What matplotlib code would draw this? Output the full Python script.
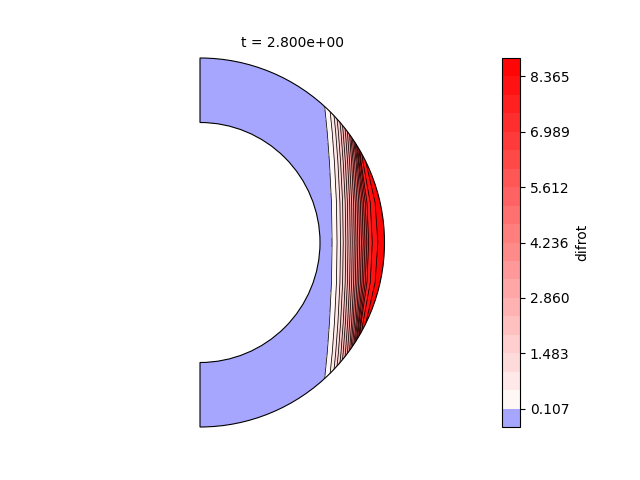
import numpy as np
import matplotlib
matplotlib.use("Agg")
import matplotlib.pyplot as plt
from matplotlib.colors import TwoSlopeNorm
from matplotlib.patches import Wedge

# shell geometry
r_out = 184.5
r_in = 120.0

levels = [-0.352, 0.107, 0.566, 1.025, 1.483, 1.942, 2.401, 2.860, 3.319, 3.777, 4.236,
          4.695, 5.154, 5.612, 6.071, 6.530, 6.989, 7.448, 7.906, 8.365, 8.824]
tick_values = [0.107, 1.483, 2.860, 4.236, 5.612, 6.989, 8.365]
tick_labels = ["0.107", "1.483", "2.860", "4.236", "5.612", "6.989", "8.365"]

# difrot values, and where each one sits along the x direction on a few heights
difrot_values = [-0.30, 0.10, 0.56, 1.02, 1.48, 1.94, 2.40, 2.85, 3.31, 3.77, 4.23,
                 4.69, 5.15, 5.61, 6.07, 6.53, 6.98, 7.44, 7.90, 8.36, 8.80]
heights = [0, 40, 80, 110, 140, 190]
x_at_value = [
    [0, 132.0, 137.0, 140.5, 143.2, 145.8, 148.0, 150.2, 152.2, 154.2, 156.0,
     157.8, 159.6, 161.4, 163.2, 165.0, 166.8, 168.6, 172.2, 177.6, 200],
    [0, 131.4, 136.4, 139.9, 142.6, 145.2, 147.4, 149.6, 151.6, 153.6, 155.3,
     157.0, 158.7, 160.4, 162.0, 163.6, 165.2, 166.9, 170.2, 174.8, 200],
    [0, 129.4, 134.4, 137.9, 140.6, 143.2, 145.4, 147.6, 149.6, 151.6, 153.1,
     154.6, 156.1, 157.2, 158.4, 159.2, 160.4, 161.1, 163.0, 165.6, 200],
    [0, 127.2, 132.2, 135.7, 138.4, 141.0, 143.2, 145.4, 147.4, 149.4, 150.6,
     151.8, 153.0, 154.0, 155.0, 156.0, 157.0, 158.0, 159.0, 160.0, 200],
    [0, 124.2, 129.2, 132.7, 135.4, 138.0, 140.2, 142.4, 144.4, 146.4, 147.5,
     148.5, 149.5, 150.5, 151.5, 152.5, 153.5, 154.5, 155.5, 156.5, 200],
    [0, 117.0, 122.0, 125.7, 128.4, 131.0, 133.2, 135.4, 137.4, 139.4, 140.5,
     141.5, 142.5, 143.5, 144.5, 145.5, 146.5, 147.5, 148.5, 149.5, 200],
]

# the table only holds one hemisphere, the other one is its mirror
table = np.array(x_at_value)
X = np.vstack([table[::-1], table[1:]])
h = np.array(heights, dtype=float)
y = np.concatenate([-h[::-1], h[1:]])
Y = np.tile(y[:, None], (1, table.shape[1]))
Z = np.tile(np.array(difrot_values), (len(y), 1))

fig = plt.figure(figsize=(6.4, 4.8), dpi=100)
ax = fig.add_axes([200 / 640, 53 / 480, r_out / 640, 369 / 480])
cax = fig.add_axes([502 / 640, 53 / 480, 18 / 640, 369 / 480])

norm = TwoSlopeNorm(vmin=levels[0], vcenter=0, vmax=levels[-1])
filled = ax.contourf(X, Y, Z, levels=levels, cmap="bwr", norm=norm)
lines = ax.contour(X, Y, Z, levels=levels[1:-1], colors="k", linewidths=0.55)

shell = Wedge((0, 0), r_out, -90, 90, width=r_out - r_in, fc="none", ec="k", lw=0.8, clip_on=False)
ax.add_patch(shell)
filled.set_clip_path(shell)
lines.set_clip_path(shell)

ax.set_xlim(0, r_out)
ax.set_ylim(-r_out, r_out)
ax.axis("off")
ax.set_title("t = 2.800e+00", fontsize=10, pad=8)

cbar = fig.colorbar(filled, cax=cax, ticks=tick_values)
cbar.ax.set_yticklabels(tick_labels)
cbar.set_label("difrot")

fig.savefig("out.png", dpi=100)
